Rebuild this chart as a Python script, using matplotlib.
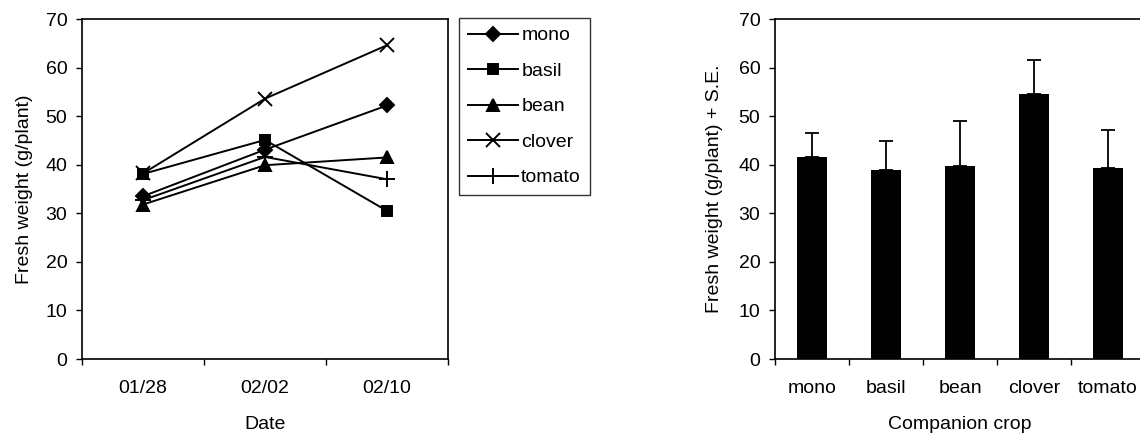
import matplotlib
matplotlib.use('Agg')
import matplotlib.pyplot as plt
import numpy as np

plt.rcParams['font.family'] = ['Liberation Sans', 'DejaVu Sans']
plt.rcParams['font.size'] = 14

# fresh weight over time, per companion crop
dates = ['01/28', '02/02', '02/10']
crops = ['mono', 'basil', 'bean', 'clover', 'tomato']
mono = [33.5, 43.1, 52.2]
basil = [38.1, 45.1, 30.5]
bean = [31.8, 39.9, 41.5]
clover = [38.2, 53.6, 64.6]
tomato = [32.7, 41.6, 37.0]
markers = ['D', 's', '^', 'x', '+']
msizes = [7, 7, 8, 10, 11]

# mean fresh weight and standard error per companion crop
means = [41.6, 39.0, 39.8, 54.5, 39.4]
se = [5.0, 5.9, 9.1, 7.1, 7.7]

W, H = 1140, 436
fig = plt.figure(figsize=(W / 100, H / 100), dpi=100)


def px_axes(x0, y0, x1, y1):
    return fig.add_axes([x0 / W, 1 - y1 / H, (x1 - x0) / W, (y1 - y0) / H])


def style(ax):
    for s in ax.spines.values():
        s.set_linewidth(1.2)
    ax.set_ylim(0, 70)
    ax.set_yticks(range(0, 71, 10))
    ax.tick_params(axis='y', direction='out', length=4.5, width=1.0, pad=6)


# left: line chart
ax1 = px_axes(82, 19, 448, 359)
style(ax1)
x = np.arange(len(dates))
for name, vals, m, ms in zip(crops, [mono, basil, bean, clover, tomato], markers, msizes):
    ax1.plot(x, vals, color='black', lw=1.4, marker=m, markersize=ms,
             markeredgewidth=1.4, label=name)
ax1.set_xlim(-0.5, 2.5)
ax1.set_xticks([-0.5, 0.5, 1.5, 2.5])
ax1.set_xticklabels([])
ax1.set_xticks(x, minor=True)
ax1.set_xticklabels(dates, minor=True)
ax1.tick_params(axis='x', which='major', direction='out', length=4.5, width=1.0)
ax1.tick_params(axis='x', which='minor', length=0, pad=15)
ax1.set_ylabel('Fresh weight (g/plant)', labelpad=9)
ax1.set_xlabel('Date', labelpad=14)

leg = ax1.legend(loc='upper left', bbox_to_anchor=(459 / W, 1 - 18 / H),
                 bbox_transform=fig.transFigure, borderaxespad=0,
                 frameon=True, fancybox=False, handlelength=2.6,
                 handletextpad=0.15, labelspacing=0.92, borderpad=0.45)
leg.get_frame().set_edgecolor('black')
leg.get_frame().set_linewidth(1.0)

# right: bar chart with upper S.E.
step = 74
ax2 = px_axes(775, 19, 775 + 5 * step, 359)
style(ax2)
xb = np.arange(len(crops))
ax2.bar(xb, means, width=0.41, color='black')
ax2.errorbar(xb, means, yerr=[np.zeros(len(se)), se], fmt='none',
             ecolor='black', elinewidth=1.3, capsize=5, capthick=1.3)
ax2.set_xlim(-0.5, 4.5)
ax2.set_xticks(np.r_[-0.5, xb[:-1] + 0.5])
ax2.set_xticklabels([])
ax2.set_xticks(xb, minor=True)
ax2.set_xticklabels(crops, minor=True)
ax2.tick_params(axis='x', which='major', direction='out', length=4.5, width=1.0)
ax2.tick_params(axis='x', which='minor', length=0, pad=15)
ax2.set_ylabel('Fresh weight (g/plant) + S.E.', labelpad=11)
ax2.set_xlabel('Companion crop', labelpad=14)

fig.savefig('out.png', dpi=100)
